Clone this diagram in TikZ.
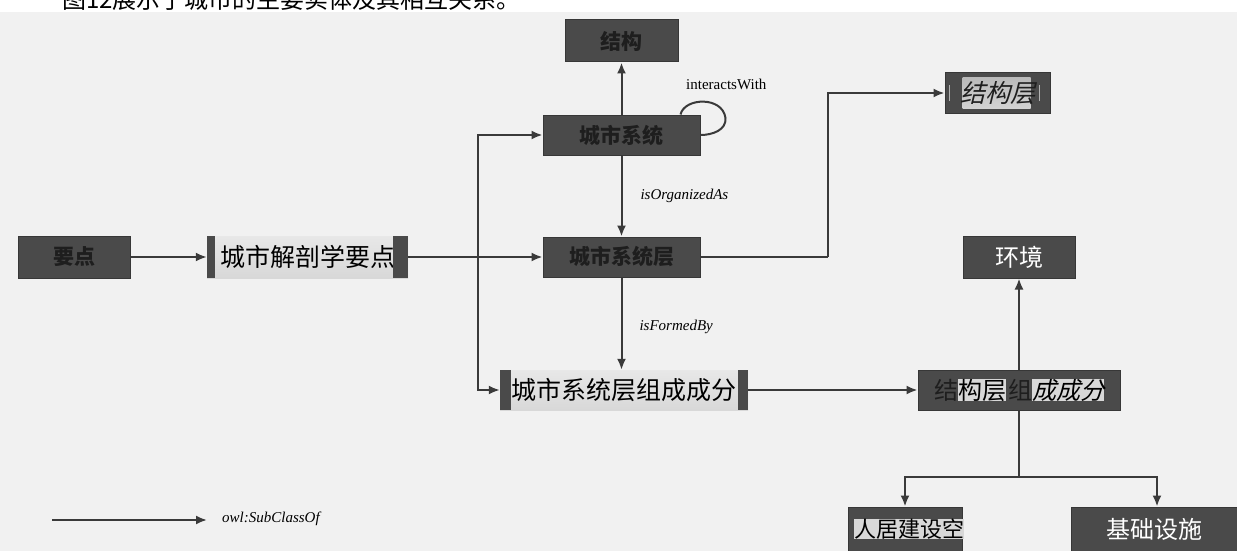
\documentclass[tikz,border=0pt]{standalone}
\usepackage{fontspec}
\setmainfont{Liberation Serif}
\newfontfamily\cjk{Noto Sans CJK SC}
\newfontfamily\cjki[FakeSlant=0.25]{Noto Sans CJK SC}
\usetikzlibrary{arrows.meta,calc}
\definecolor{bg}{HTML}{F1F1F1}
\definecolor{dbox}{HTML}{4A4A4A}
\definecolor{dtext}{HTML}{1E1E1E}
\definecolor{ln}{HTML}{3A3A3A}
\definecolor{hl}{HTML}{D8D8D8}
\tikzset{
  darkbox/.style={fill=dbox, draw=dbox!75!black, line width=1pt, inner sep=0pt,
    font=\cjk\bfseries\fontsize{21}{21}\selectfont, text=dtext},
  whitebox/.style={darkbox, font=\cjk\fontsize{24}{24}\selectfont, text=white},
  lightbox/.style={top color=hl!60!white, bottom color=hl, draw=none, inner sep=0pt,
    font=\cjk\fontsize{25}{25}\selectfont, text=black},
  conn/.style={draw=ln, line width=2pt, -{Latex[length=11pt,width=9pt]}},
  plain/.style={draw=ln, line width=2pt},
  lbl/.style={font=\itshape\fontsize{15}{15}\selectfont, inner sep=0pt},
}
\begin{document}
\begin{tikzpicture}[x=1pt,y=-1pt]
\useasboundingbox (0,0) rectangle (1237,551);
\clip (0,0) rectangle (1237,551);
\fill[white] (0,0) rectangle (1237,551);
\fill[bg] (0,12) rectangle (1237,551);
% caption (cut off at top, as in the reference)
\node[anchor=west, font=\cjk\fontsize{24}{24}\selectfont, inner sep=0pt] (cap) at (62,-1) {图12展示了城市的主要实体及其相互关系。};

% nodes
\node[darkbox, minimum width=113pt, minimum height=42pt] (jg) at (621.5,41) {结构};
\node[darkbox, minimum width=157pt, minimum height=40pt] (cs) at (621.5,135) {城市系统};
\node[darkbox, minimum width=157pt, minimum height=40pt] (csl) at (621.5,257) {城市系统层};
\node[darkbox, minimum width=112pt, minimum height=42pt] (yd) at (74,257) {要点};
\node[lightbox, minimum width=201pt, minimum height=42pt] (jp) at (307.5,257) {城市解剖学要点};
\node[lightbox, minimum width=248pt, minimum height=40pt] (cc) at (624,390) {城市系统层组成成分};
\node[darkbox, minimum width=105pt, minimum height=40pt] (jgl) at (997.5,93) {};
\node[whitebox, minimum width=112pt, minimum height=42pt] (hj) at (1019,257) {环境};
\node[darkbox, minimum width=202pt, minimum height=40pt] (jc) at (1019,390) {};
\node[darkbox, minimum width=114pt, minimum height=44pt] (rj) at (905,529) {};
\node[whitebox, minimum width=166pt, minimum height=44pt] (jc2) at (1154,529) {基础设施};

% side bars of light boxes
\fill[dbox] (jp.north west) rectangle ($(jp.south west)+(8,0)$);
\fill[dbox] ($(jp.north east)+(-15,0)$) rectangle (jp.south east);
\fill[dbox] (cc.north west) rectangle ($(cc.south west)+(11,0)$);
\fill[dbox] ($(cc.north east)+(-10,0)$) rectangle (cc.south east);

% 结构层 inner
\shade[top color=gray!55, bottom color=gray!35] ($(jgl.north west)+(18,5)$) rectangle ($(jgl.south east)+(-20,-5)$);
\node[font=\cjki\fontsize{25}{25}\selectfont, text=dtext, inner sep=0pt] (jglt) at (jgl.center) {结构层};
\fill[gray!60] ($(jgl.west)+(4,-8)$) rectangle ($(jgl.west)+(5.5,8)$);
\fill[gray!60] ($(jgl.east)+(-12,-8)$) rectangle ($(jgl.east)+(-10.5,8)$);

% 结构层组成成分 text
\node[font=\cjk\fontsize{24}{24}\selectfont, inner sep=0pt, text=black] (jct) at (jc.center)
  {\setlength\fboxsep{0pt}{\color{dtext}结}\colorbox{hl}{构层}\hspace{2pt}{\color{dtext}组}\colorbox{hl}{\cjki 成成分}};
% 人居建设空 text
\node[font=\cjk\fontsize{22}{22}\selectfont, inner sep=0pt, text=black] (rjt) at ([xshift=4pt]rj.center)
  {\setlength\fboxsep{0pt}\colorbox{hl}{人居建设空}};

% connectors
\coordinate (j) at (478,257);
\draw[conn] (yd.east) -- (jp.west);
\draw[plain] (jp.east) -- (j);
\draw[conn] (j) -- (csl.west);
\draw[conn] (j) |- (cs.west);
\draw[conn] (j) |- (cc.west);
\draw[conn] (cs.north) -- (jg.south);
\draw[conn] (cs.south) -- (csl.north) node[lbl, midway, anchor=west, xshift=18pt] (org) {isOrganizedAs};
\draw[conn] (csl.south) -- (csl.south |- cc.north) node[lbl, midway, anchor=west, xshift=17pt, yshift=-3pt] (frm) {isFormedBy};
\draw[plain] ($(cs.north east)+(-20,0)$) .. controls +(4,-17) and +(-3,-22) .. ($(cs.east)+(25,-17)$)
  .. controls +(1,12) and +(12,0) .. (cs.east);
\node[font=\fontsize{15}{15}\selectfont, anchor=west, inner sep=0pt] (iw) at (686,84) {interactsWith};
\coordinate (b1) at (828,257);
\draw[plain] (csl.east) -- (b1);
\draw[conn] (b1) |- (jgl.west);
\draw[conn] (cc.east) -- (jc.west);
\draw[conn] (jc.north) -- (hj.south);
\coordinate (t) at (1019,477);
\draw[plain] (jc.south) -- (t);
\draw[conn] (t) -| (rj.north);
\draw[conn] (t) -| ([xshift=3pt]jc2.north);

% legend
\coordinate (l1) at (52,520);
\coordinate (l2) at (207,520);
\draw[conn] (l1) -- (l2);
\node[lbl, anchor=west] (leg) at (222,519) {owl:SubClassOf};
\end{tikzpicture}
\end{document}
